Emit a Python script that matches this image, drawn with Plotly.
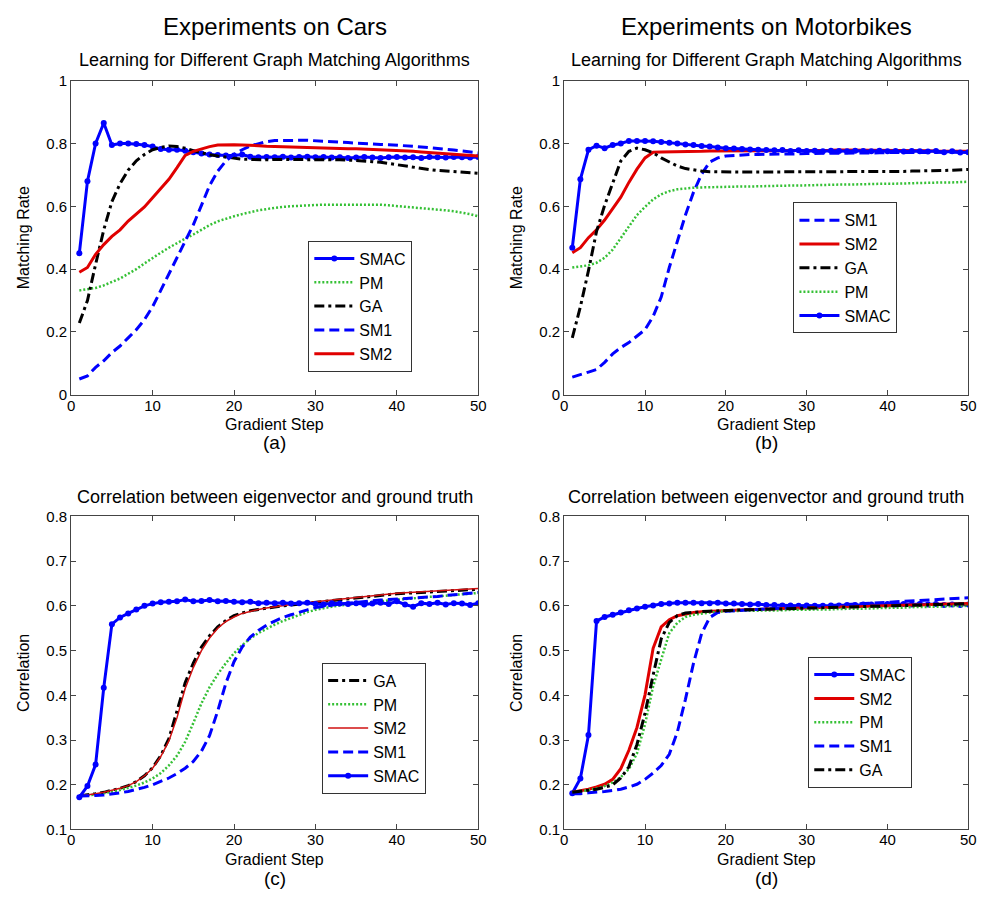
import plotly.graph_objects as go

steps = list(range(1, 51))

# ---------------- (a) Cars: matching rate ----------------
a_SMAC = [0.45, 0.68, 0.80, 0.865, 0.795, 0.80, 0.80, 0.798, 0.795, 0.79,
          0.782, 0.78, 0.78, 0.777, 0.772, 0.768, 0.765, 0.763, 0.762, 0.762,
          0.765, 0.758, 0.756, 0.757, 0.756, 0.758, 0.755, 0.757, 0.758, 0.756,
          0.757, 0.755, 0.756, 0.754, 0.755, 0.757, 0.755, 0.754, 0.756, 0.757,
          0.755, 0.756, 0.754, 0.757, 0.756, 0.755, 0.757, 0.756, 0.755, 0.757]
a_PM = [0.332, 0.335, 0.34, 0.348, 0.358, 0.37, 0.385, 0.40, 0.418, 0.436,
        0.452, 0.468, 0.483, 0.497, 0.51, 0.525, 0.54, 0.552, 0.561, 0.568,
        0.575, 0.582, 0.587, 0.591, 0.595, 0.598, 0.60, 0.602, 0.603, 0.604,
        0.605, 0.605, 0.605, 0.605, 0.606, 0.607, 0.606, 0.605, 0.603, 0.601,
        0.598, 0.596, 0.594, 0.592, 0.59, 0.587, 0.584, 0.58, 0.575, 0.568]
a_GA = [0.228, 0.30, 0.415, 0.525, 0.615, 0.672, 0.715, 0.745, 0.765, 0.78,
        0.787, 0.792, 0.79, 0.785, 0.777, 0.77, 0.764, 0.76, 0.756, 0.753,
        0.75, 0.749, 0.748, 0.748, 0.749, 0.749, 0.75, 0.75, 0.75, 0.75,
        0.75, 0.749, 0.748, 0.747, 0.746, 0.744, 0.742, 0.74, 0.736, 0.731,
        0.727, 0.723, 0.72, 0.717, 0.714, 0.712, 0.71, 0.708, 0.706, 0.705]
a_SM1 = [0.05, 0.06, 0.087, 0.108, 0.134, 0.155, 0.181, 0.207, 0.239, 0.28,
         0.332, 0.384, 0.436, 0.489, 0.541, 0.603, 0.666, 0.712, 0.744, 0.765,
         0.78, 0.792, 0.80, 0.806, 0.809, 0.81, 0.81, 0.81, 0.81, 0.809,
         0.808, 0.807, 0.805, 0.803, 0.801, 0.799, 0.798, 0.797, 0.796, 0.795,
         0.793, 0.791, 0.789, 0.787, 0.785, 0.782, 0.779, 0.776, 0.773, 0.77]
a_SM2 = [0.39, 0.405, 0.447, 0.478, 0.504, 0.525, 0.553, 0.575, 0.598, 0.627,
         0.655, 0.686, 0.723, 0.762, 0.775, 0.783, 0.79, 0.795, 0.796, 0.796,
         0.795, 0.795, 0.793, 0.791, 0.79, 0.789, 0.788, 0.787, 0.786, 0.785,
         0.785, 0.784, 0.784, 0.783, 0.783, 0.782, 0.782, 0.781, 0.78, 0.778,
         0.776, 0.775, 0.773, 0.771, 0.77, 0.768, 0.766, 0.764, 0.762, 0.76]

# ---------------- (b) Motorbikes: matching rate ----------------
b_SM1 = [0.056, 0.065, 0.072, 0.08, 0.103, 0.13, 0.15, 0.166, 0.186, 0.207,
         0.249, 0.311, 0.405, 0.489, 0.572, 0.645, 0.702, 0.741, 0.754, 0.76,
         0.762, 0.764, 0.765, 0.765, 0.765, 0.766, 0.766, 0.767, 0.767, 0.768,
         0.768, 0.768, 0.769, 0.769, 0.769, 0.77, 0.77, 0.77, 0.77, 0.771,
         0.771, 0.771, 0.771, 0.771, 0.772, 0.772, 0.772, 0.772, 0.772, 0.772]
b_SM2 = [0.452, 0.468, 0.50, 0.525, 0.556, 0.593, 0.629, 0.676, 0.718, 0.754,
         0.772, 0.773, 0.773, 0.773, 0.774, 0.774, 0.775, 0.776, 0.776, 0.777,
         0.777, 0.777, 0.778, 0.778, 0.778, 0.778, 0.778, 0.778, 0.778, 0.778,
         0.778, 0.778, 0.778, 0.779, 0.779, 0.778, 0.778, 0.778, 0.778, 0.778,
         0.778, 0.777, 0.777, 0.777, 0.777, 0.776, 0.776, 0.776, 0.775, 0.775]
b_GA = [0.181, 0.28, 0.395, 0.52, 0.603, 0.676, 0.744, 0.775, 0.785, 0.78,
        0.77, 0.754, 0.74, 0.728, 0.72, 0.715, 0.712, 0.71, 0.709, 0.709,
        0.709, 0.709, 0.709, 0.709, 0.709, 0.709, 0.709, 0.71, 0.71, 0.71,
        0.71, 0.71, 0.71, 0.71, 0.71, 0.71, 0.71, 0.71, 0.71, 0.71,
        0.711, 0.711, 0.712, 0.712, 0.713, 0.714, 0.714, 0.715, 0.716, 0.717]
b_PM = [0.405, 0.408, 0.412, 0.42, 0.436, 0.462, 0.499, 0.535, 0.572, 0.598,
        0.622, 0.638, 0.648, 0.654, 0.657, 0.659, 0.66, 0.661, 0.661, 0.662,
        0.662, 0.663, 0.663, 0.664, 0.664, 0.665, 0.665, 0.666, 0.666, 0.667,
        0.667, 0.668, 0.668, 0.669, 0.669, 0.67, 0.67, 0.671, 0.671, 0.672,
        0.672, 0.673, 0.673, 0.674, 0.675, 0.675, 0.676, 0.676, 0.677, 0.678]
b_SMAC = [0.468, 0.686, 0.78, 0.793, 0.785, 0.795, 0.80, 0.808, 0.808, 0.808,
          0.807, 0.805, 0.802, 0.80, 0.797, 0.795, 0.792, 0.79, 0.787, 0.785,
          0.784, 0.782, 0.781, 0.78, 0.779, 0.778, 0.779, 0.776, 0.778, 0.776,
          0.777, 0.775, 0.777, 0.776, 0.775, 0.777, 0.776, 0.775, 0.777, 0.775,
          0.776, 0.774, 0.776, 0.775, 0.774, 0.776, 0.772, 0.775, 0.771, 0.772]

# ---------------- (c) Cars: correlation ----------------
c_GA = [0.175, 0.177, 0.18, 0.183, 0.187, 0.192, 0.198, 0.207, 0.22, 0.238,
        0.265, 0.303, 0.365, 0.428, 0.472, 0.508, 0.533, 0.553, 0.567, 0.578,
        0.584, 0.589, 0.592, 0.595, 0.598, 0.60, 0.602, 0.604, 0.606, 0.608,
        0.61, 0.612, 0.614, 0.616, 0.618, 0.62, 0.622, 0.624, 0.625, 0.627,
        0.628, 0.629, 0.63, 0.631, 0.632, 0.633, 0.634, 0.635, 0.636, 0.637]
c_PM = [0.175, 0.176, 0.178, 0.181, 0.184, 0.188, 0.193, 0.198, 0.205, 0.214,
        0.226, 0.243, 0.265, 0.296, 0.338, 0.382, 0.418, 0.447, 0.472, 0.494,
        0.512, 0.527, 0.539, 0.549, 0.558, 0.566, 0.573, 0.58, 0.586, 0.591,
        0.595, 0.598, 0.601, 0.603, 0.605, 0.607, 0.609, 0.611, 0.612, 0.614,
        0.615, 0.617, 0.618, 0.62, 0.621, 0.623, 0.624, 0.626, 0.627, 0.629]
c_SM2 = [0.175, 0.177, 0.18, 0.183, 0.187, 0.192, 0.198, 0.207, 0.22, 0.237,
         0.263, 0.298, 0.35, 0.415, 0.462, 0.50, 0.528, 0.55, 0.565, 0.575,
         0.583, 0.588, 0.592, 0.595, 0.598, 0.60, 0.603, 0.605, 0.607, 0.609,
         0.611, 0.613, 0.615, 0.617, 0.619, 0.621, 0.623, 0.625, 0.626, 0.628,
         0.629, 0.63, 0.631, 0.632, 0.633, 0.634, 0.635, 0.636, 0.638, 0.639]
c_SM1 = [0.175, 0.175, 0.176, 0.177, 0.179, 0.182, 0.185, 0.189, 0.194, 0.20,
         0.207, 0.215, 0.225, 0.237, 0.252, 0.275, 0.31, 0.365, 0.427, 0.475,
         0.508, 0.53, 0.545, 0.557, 0.566, 0.574, 0.58, 0.586, 0.591, 0.596,
         0.599, 0.602, 0.604, 0.606, 0.608, 0.61, 0.611, 0.613, 0.614, 0.615,
         0.616, 0.617, 0.618, 0.62, 0.621, 0.623, 0.625, 0.627, 0.628, 0.63]
c_SMAC = [0.172, 0.197, 0.245, 0.417, 0.559, 0.574, 0.583, 0.592, 0.60, 0.605,
          0.608, 0.609, 0.61, 0.614, 0.61, 0.611, 0.613, 0.61, 0.611, 0.609,
          0.608, 0.609, 0.606, 0.607, 0.606, 0.607, 0.605, 0.606, 0.607, 0.604,
          0.603, 0.606, 0.605, 0.604, 0.606, 0.603, 0.605, 0.607, 0.604, 0.61,
          0.603, 0.598, 0.606, 0.604, 0.607, 0.603, 0.606, 0.605, 0.602, 0.606]

# ---------------- (d) Motorbikes: correlation ----------------
d_SMAC = [0.181, 0.214, 0.311, 0.566, 0.575, 0.58, 0.585, 0.59, 0.594, 0.598,
          0.601, 0.604, 0.605, 0.607, 0.607, 0.607, 0.606, 0.606, 0.607, 0.605,
          0.605, 0.604, 0.603, 0.604, 0.602, 0.602, 0.601, 0.601, 0.60, 0.601,
          0.60, 0.60, 0.601, 0.601, 0.602, 0.602, 0.603, 0.603, 0.602, 0.604,
          0.603, 0.604, 0.603, 0.604, 0.603, 0.604, 0.602, 0.603, 0.602, 0.603]
d_SM2 = [0.183, 0.186, 0.19, 0.195, 0.201, 0.212, 0.236, 0.277, 0.328, 0.401,
         0.505, 0.553, 0.569, 0.578, 0.582, 0.585, 0.587, 0.588, 0.589, 0.59,
         0.591, 0.591, 0.592, 0.592, 0.593, 0.593, 0.594, 0.594, 0.595, 0.595,
         0.596, 0.596, 0.597, 0.597, 0.598, 0.598, 0.599, 0.599, 0.60, 0.60,
         0.601, 0.601, 0.602, 0.602, 0.603, 0.603, 0.604, 0.604, 0.605, 0.605]
d_PM = [0.183, 0.185, 0.188, 0.192, 0.197, 0.205, 0.217, 0.235, 0.27, 0.335,
        0.42, 0.48, 0.539, 0.562, 0.575, 0.58, 0.583, 0.585, 0.587, 0.588,
        0.588, 0.589, 0.589, 0.589, 0.59, 0.59, 0.59, 0.591, 0.591, 0.591,
        0.592, 0.592, 0.592, 0.593, 0.593, 0.594, 0.594, 0.594, 0.595, 0.595,
        0.596, 0.596, 0.597, 0.597, 0.598, 0.598, 0.599, 0.599, 0.60, 0.60]
d_SM1 = [0.18, 0.18, 0.182, 0.183, 0.185, 0.187, 0.19, 0.195, 0.201, 0.212,
         0.226, 0.243, 0.268, 0.318, 0.391, 0.472, 0.538, 0.574, 0.585, 0.588,
         0.589, 0.59, 0.591, 0.592, 0.592, 0.593, 0.594, 0.595, 0.596, 0.598,
         0.599, 0.60, 0.601, 0.602, 0.603, 0.604, 0.605, 0.606, 0.607, 0.608,
         0.609, 0.61, 0.611, 0.612, 0.613, 0.614, 0.615, 0.616, 0.617, 0.618]
d_GA = [0.183, 0.185, 0.187, 0.19, 0.194, 0.20, 0.215, 0.24, 0.29, 0.36,
        0.445, 0.526, 0.563, 0.578, 0.584, 0.586, 0.587, 0.588, 0.589, 0.59,
        0.59, 0.591, 0.591, 0.592, 0.592, 0.593, 0.593, 0.594, 0.594, 0.595,
        0.595, 0.596, 0.596, 0.597, 0.597, 0.598, 0.598, 0.599, 0.599, 0.60,
        0.60, 0.601, 0.601, 0.602, 0.602, 0.603, 0.603, 0.604, 0.604, 0.605]

main_titles = ["Experiments on Cars", "Experiments on Motorbikes"]
top_subtitle = "Learning for Different Graph Matching Algorithms"
bottom_subtitle = "Correlation between eigenvector and ground truth"
panel_labels = ["(a)", "(b)", "(c)", "(d)"]
x_title = "Gradient Step"
y_titles = ["Matching Rate", "Correlation"]

FONT = "Liberation Sans, Arial, sans-serif"
BLUE = "#0000ff"
RED = "#e00000"
GREEN = "#35c035"
BLACK = "#000000"

styles = {
    "SMAC": dict(mode="lines+markers", line=dict(color=BLUE, width=3),
                 marker=dict(color=BLUE, size=6, symbol="circle")),
    "PM": dict(mode="lines", line=dict(color=GREEN, width=2.5, dash="2px,2px")),
    "GA": dict(mode="lines", line=dict(color=BLACK, width=3, dash="10px,4px,3px,4px")),
    "SM1": dict(mode="lines", line=dict(color=BLUE, width=3, dash="10px,5px")),
    "SM2": dict(mode="lines", line=dict(color=RED, width=3)),
}

panels = [
    dict(order=["SMAC", "PM", "GA", "SM1", "SM2"],
         data={"SMAC": a_SMAC, "PM": a_PM, "GA": a_GA, "SM1": a_SM1, "SM2": a_SM2}),
    dict(order=["SM1", "SM2", "GA", "PM", "SMAC"],
         data={"SM1": b_SM1, "SM2": b_SM2, "GA": b_GA, "PM": b_PM, "SMAC": b_SMAC}),
    dict(order=["GA", "PM", "SM2", "SM1", "SMAC"],
         data={"GA": c_GA, "PM": c_PM, "SM2": c_SM2, "SM1": c_SM1, "SMAC": c_SMAC}),
    dict(order=["SMAC", "SM2", "PM", "SM1", "GA"],
         data={"SMAC": d_SMAC, "SM2": d_SM2, "PM": d_PM, "SM1": d_SM1, "GA": d_GA}),
]

W, H = 1003, 914
def fx(px): return px / W
def fy(py): return 1 - py / H

x_domains = [(68, 480), (567, 976), (68, 480), (567, 976)]
y_domains = [(73, 393), (73, 393), (517, 836), (517, 836)]
legend_pos = [(308, 236), (799, 197), (322, 666), (814, 660)]

fig = go.Figure()
legend_names = ["legend", "legend2", "legend3", "legend4"]

for i, p in enumerate(panels):
    xa = "x" if i == 0 else f"x{i+1}"
    ya = "y" if i == 0 else f"y{i+1}"
    for name in p["order"]:
        st = dict(styles[name])
        if i == 2 and name == "SM2":
            st = dict(mode="lines", line=dict(color="#d01010", width=1.5))
        fig.add_trace(go.Scatter(x=steps, y=p["data"][name], name=name,
                                 xaxis=xa, yaxis=ya, legend=legend_names[i],
                                 **st))

layout = dict(width=W, height=H, margin=dict(l=0, r=0, t=0, b=0),
              paper_bgcolor="white", plot_bgcolor="white",
              font=dict(family=FONT, size=16, color="black"))

axis_common = dict(showgrid=False, zeroline=False, showline=True, linecolor="#444",
                   linewidth=1, mirror="allticks", ticks="inside", ticklen=5,
                   tickcolor="#444", tickfont=dict(family=FONT, size=15, color="black"))

for i in range(4):
    xk = "xaxis" if i == 0 else f"xaxis{i+1}"
    yk = "yaxis" if i == 0 else f"yaxis{i+1}"
    ya = "y" if i == 0 else f"y{i+1}"
    xa = "x" if i == 0 else f"x{i+1}"
    top = i < 2
    layout[xk] = dict(axis_common, domain=[fx(x_domains[i][0]), fx(x_domains[i][1])],
                      anchor=ya, range=[0, 50], dtick=10, tick0=0,
                      ticklabelstandoff=-3)
    layout[yk] = dict(axis_common, domain=[fy(y_domains[i][1]), fy(y_domains[i][0])],
                      anchor=xa,
                      range=[0, 1] if top else [0.1, 0.8],
                      dtick=0.2 if top else 0.1, tick0=0,
                      title=dict(text=y_titles[0] if top else y_titles[1],
                                 font=dict(size=16), standoff=12))
    layout[legend_names[i]] = dict(x=fx(legend_pos[i][0]), y=fy(legend_pos[i][1]),
                                   xanchor="left", yanchor="top", xref="paper", yref="paper",
                                   bgcolor="white", bordercolor="#333", borderwidth=1,
                                   font=dict(family=FONT, size=16, color="black"),
                                   itemwidth=40,
                                   traceorder="normal", tracegroupgap=0)

annotations = []
centers = [274, 771.5]
for j in range(2):
    annotations.append(dict(text=main_titles[j], x=fx(centers[j]), y=fy(18), xref="paper",
                            yref="paper", showarrow=False, font=dict(size=24),
                            xanchor="center", yanchor="middle"))
    annotations.append(dict(text=top_subtitle, x=fx(centers[j]), y=fy(52), xref="paper",
                            yref="paper", showarrow=False, font=dict(size=18),
                            xanchor="center", yanchor="middle"))
    annotations.append(dict(text=bottom_subtitle, x=fx(centers[j]), y=fy(497), xref="paper",
                            yref="paper", showarrow=False, font=dict(size=18),
                            xanchor="center", yanchor="middle"))
    annotations.append(dict(text=x_title, x=fx(centers[j]), y=fy(423), xref="paper",
                            yref="paper", showarrow=False, font=dict(size=16),
                            xanchor="center", yanchor="middle"))
    annotations.append(dict(text=x_title, x=fx(centers[j]), y=fy(867), xref="paper",
                            yref="paper", showarrow=False, font=dict(size=16),
                            xanchor="center", yanchor="middle"))
    annotations.append(dict(text=panel_labels[j], x=fx(centers[j]), y=fy(442), xref="paper",
                            yref="paper", showarrow=False, font=dict(size=19),
                            xanchor="center", yanchor="middle"))
    annotations.append(dict(text=panel_labels[j + 2], x=fx(centers[j]), y=fy(886), xref="paper",
                            yref="paper", showarrow=False, font=dict(size=19),
                            xanchor="center", yanchor="middle"))
layout["annotations"] = annotations

fig.update_layout(**layout)
fig.write_html("out.html")
